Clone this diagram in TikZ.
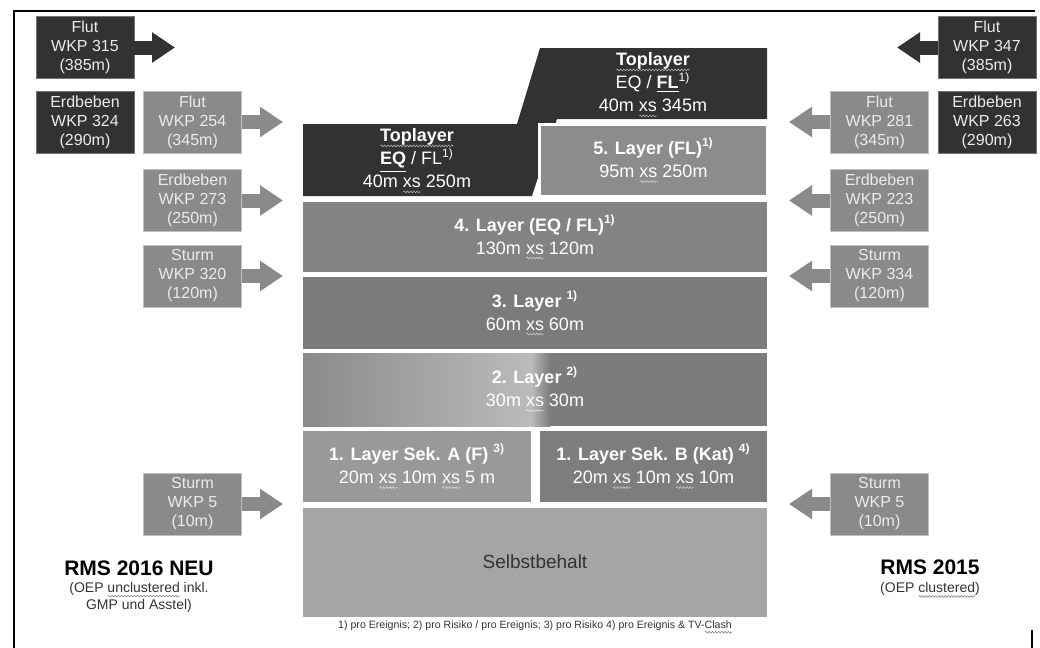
\documentclass[tikz,border=0pt]{standalone}
\usepackage{fontspec}
\setmainfont{Liberation Sans}
\usetikzlibrary{arrows.meta,decorations.pathmorphing}
\definecolor{darkbox}{HTML}{323232}
\definecolor{sidegray}{HTML}{8A8A8A}
\definecolor{layfive}{HTML}{8C8C8C}
\definecolor{layfour}{HTML}{838383}
\definecolor{laythree}{HTML}{7B7B7B}
\definecolor{laytwo}{HTML}{7C7C7C}
\definecolor{laytwoleft}{HTML}{8A8A8A}
\definecolor{laytwolight}{HTML}{BBBBBB}
\definecolor{layonea}{HTML}{999999}
\definecolor{layoneb}{HTML}{7D7D7D}
\definecolor{selbst}{HTML}{A5A5A5}
\definecolor{txtdark}{HTML}{333333}
\newsavebox\sqbox
\newlength\sqlen
\newcommand\squig[1]{\sbox\sqbox{#1}\setlength\sqlen{\wd\sqbox}\rlap{\tikz[baseline=2pt,x=1pt,y=1pt]\draw[line width=0.3pt,opacity=0.6,decorate,decoration={snake,amplitude=0.45pt,segment length=1.6pt}] (0,0) -- (\sqlen,0);}#1}

\begin{document}
\begin{tikzpicture}[x=0.5pt,y=-0.5pt]
        \tikzstyle{wkp}=[rectangle,inner sep=0pt,minimum width=49pt,minimum height=31pt,align=center,text=white!92!black,font=\fontsize{8}{9.5}\selectfont]
        \tikzstyle{wkpdark}=[wkp,fill=darkbox,draw=black!55]
        \tikzstyle{wkpgray}=[wkp,fill=sidegray,draw=black!25]
        \tikzstyle{blockarrow}=[line width=7pt,-{Triangle[width=14.5pt,length=11.5pt]}]
        \tikzstyle{layer}=[rectangle,inner sep=0pt,align=center,text=white,font=\fontsize{9}{11.5}\selectfont]
        \tikzstyle{rms}=[align=center,text=black,font=\fontsize{10.5}{12}\selectfont\bfseries]
        \tikzstyle{rmsnote}=[align=center,text=txtdark,font=\fontsize{7}{8.5}\selectfont]
        \useasboundingbox (0,0) rectangle (1040,648);
        \draw[line width=1pt] (14,648) -- (14,11) -- (1035,11);
        \draw[line width=0.8pt] (1032,630) -- (1032,648);
       \begin{scope}
         \node [wkpdark] (flut315) at (85,47.5) {Flut\\WKP 315\\(385m)};
         \node [wkpdark] (erd324) at (85,122) {Erdbeben\\WKP 324\\(290m)};
         \node [wkpgray] (flut254) at (192.5,122) {Flut\\WKP 254\\(345m)};
         \node [wkpgray] (erd273) at (192.5,200.5) {Erdbeben\\WKP 273\\(250m)};
         \node [wkpgray] (sturm320) at (192.5,276) {Sturm\\WKP 320\\(120m)};
         \node [wkpgray] (sturm5l) at (192.5,504) {Sturm\\WKP 5\\(10m)};
         \coordinate (t315) at (175,47.5);
         \coordinate (t254) at (283,122);
         \coordinate (t273) at (283,200.5);
         \coordinate (t320) at (283,276);
         \coordinate (t5l) at (283,504);
         \draw[blockarrow,darkbox] (flut315.east) -- (t315);
         \draw[blockarrow,sidegray] (flut254.east) -- (t254);
         \draw[blockarrow,sidegray] (erd273.east) -- (t273);
         \draw[blockarrow,sidegray] (sturm320.east) -- (t320);
         \draw[blockarrow,sidegray] (sturm5l.east) -- (t5l);
        \end{scope}
       \begin{scope}
         \node [wkpdark] (flut347) at (987,47.5) {Flut\\WKP 347\\(385m)};
         \node [wkpdark] (erd263) at (987,122) {Erdbeben\\WKP 263\\(290m)};
         \node [wkpgray] (flut281) at (879.5,122) {Flut\\WKP 281\\(345m)};
         \node [wkpgray] (erd223) at (879.5,200.5) {Erdbeben\\WKP 223\\(250m)};
         \node [wkpgray] (sturm334) at (879.5,276) {Sturm\\WKP 334\\(120m)};
         \node [wkpgray] (sturm5r) at (879.5,504) {Sturm\\WKP 5\\(10m)};
         \coordinate (t347) at (897,47.5);
         \coordinate (t281) at (789,122);
         \coordinate (t223) at (789,200.5);
         \coordinate (t334) at (789,276);
         \coordinate (t5r) at (789,504);
         \draw[blockarrow,darkbox] (flut347.west) -- (t347);
         \draw[blockarrow,sidegray] (flut281.west) -- (t281);
         \draw[blockarrow,sidegray] (erd223.west) -- (t223);
         \draw[blockarrow,sidegray] (sturm334.west) -- (t334);
         \draw[blockarrow,sidegray] (sturm5r.west) -- (t5r);
        \end{scope}
       \begin{scope}
         \fill[darkbox] (303,124) -- (517,124) -- (540,48) -- (767,48) -- (767,119) -- (557,119) -- (532,196) -- (303,196) -- cycle;
         \node [layer] (topeq) at (417,161) {{\bfseries\squig{Toplayer}}\\\underline{\bfseries EQ} / FL\textsuperscript{1)}\\40m \squig{xs} 250m};
         \node [layer] (topfl) at (653,85) {{\bfseries\squig{Toplayer}}\\EQ / \underline{\bfseries FL}\textsuperscript{1)}\\40m \squig{xs} 345m};
         \node [layer,fill=layfive,draw=white,line width=1.5pt,minimum width=114pt,minimum height=36pt] (l5) at (653.5,160.5) {{\bfseries 5. Layer (FL)\textsuperscript{1)}}\\95m \squig{xs} 250m};
         \node [layer,fill=layfour,minimum width=232pt,minimum height=35pt] (l4) at (535,237) {{\bfseries 4. Layer (EQ / FL)\textsuperscript{1)}}\\130m \squig{xs} 120m};
         \node [layer,fill=laythree,minimum width=232pt,minimum height=36pt] (l3) at (535,313) {{\bfseries 3. Layer \textsuperscript{1)}}\\60m \squig{xs} 60m};
         \shade[left color=laytwoleft,right color=laytwolight] (303,353) rectangle (531,426);
         \shade[left color=laytwolight,right color=laytwo] (531,353) rectangle (550,426);
         \fill[laytwo] (550,353) rectangle (767,426);
         \node [layer,minimum width=232pt,minimum height=36.5pt] (l2) at (535,389.5) {{\bfseries 2. Layer \textsuperscript{2)}}\\30m \squig{xs} 30m};
         \node [layer,fill=layonea,minimum width=114pt,minimum height=35.5pt] (l1a) at (417,466.5) {{\bfseries 1. Layer Sek. A (F) \textsuperscript{3)}}\\20m \squig{xs} 10m \squig{xs} 5 m};
         \node [layer,fill=layoneb,minimum width=113.5pt,minimum height=35.5pt] (l1b) at (653.5,466.5) {{\bfseries 1. Layer Sek. B (Kat) \textsuperscript{4)}}\\20m \squig{xs} 10m \squig{xs} 10m};
         \node [layer,fill=selbst,minimum width=232pt,minimum height=54.5pt] (sb) at (535,562.5) {};
         \node [text=txtdark,font=\fontsize{9.5}{11}\selectfont] (sbtext) at (535,562) {Selbstbehalt};
         \node [text=txtdark,font=\fontsize{5.3}{6}\selectfont] (fn) at (535,627) {1) pro Ereignis; 2) pro Risiko / pro Ereignis; 3) pro Risiko 4) pro Ereignis \& TV-\squig{Clash}};
        \end{scope}
         \node [rms] (rms16) at (139,568) {RMS 2016 NEU};
         \node [rmsnote] (rms16n) at (139,597) {(OEP \squig{unclustered} inkl.\\GMP und Asstel)};
         \node [rms] (rms15) at (930,567) {RMS 2015};
         \node [rmsnote] (rms15n) at (930,590) {(OEP \squig{clustered})};
      \end{tikzpicture}
\end{document}
